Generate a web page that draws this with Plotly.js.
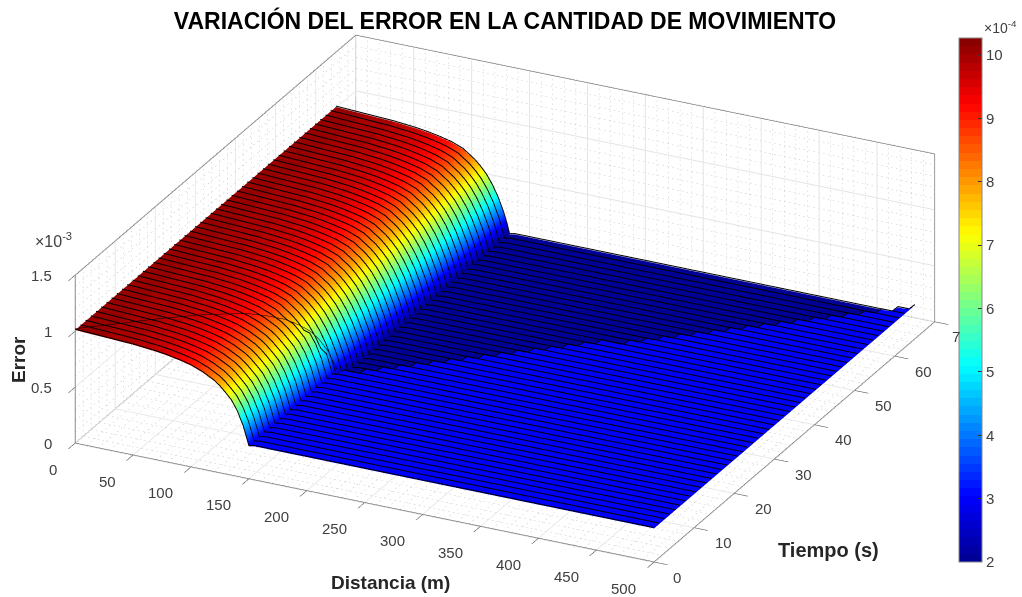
<!DOCTYPE html>
<html><head><meta charset="utf-8">
<script src="https://cdn.plot.ly/plotly-3.0.1.min.js"></script>
<style>html,body{margin:0;padding:0;background:#fff;overflow:hidden}</style>
</head><body><div id="chart" style="width:1022px;height:597px"></div>
<script>
// distance samples (m)
const distance = [0,10,20,30,40,50,60,70,80,90,100,110,120,125,130,135,140,145,148,150,155,160,170,180,190,200,210,220,230,240,250,260,270,280,290,300,310,320,330,340,350,360,370,380,390,400,410,420,430,440,450,460,470,480,490,500];
// error profile before the front has passed (t small)
const errorBefore = [1.01,1.005,1.0,.995,.99,.985,.975,.965,.95,.93,.905,.865,.81,.77,.72,.665,.58,.46,.36,.29,.3,.3,.3,.3,.3,.3,.3,.3,.3,.3,.3,.3,.3,.3,.3,.3,.3,.3,.3,.3,.3,.3,.3,.3,.3,.3,.3,.3,.3,.3,.3,.3,.3,.3,.3,.3];
// error profile after the front has passed
const errorAfter = [1.01,1.005,1.0,.995,.99,.985,.975,.965,.95,.93,.905,.865,.79,.74,.68,.6,.5,.37,.27,.19,.2,.2,.2,.2,.2,.2,.2,.2,.2,.2,.2,.2,.2,.2,.2,.2,.2,.2,.2,.2,.2,.2,.2,.2,.2,.2,.2,.2,.2,.2,.2,.2,.2,.2,.2,.2];
// time at which the front crosses each distance (s)
const arrival = [0,1.5,2.9,4.4,5.9,7.3,8.8,10.3,11.7,13.2,14.7,16.1,17.6,18.3,19.1,19.8,20.5,21.3,21.7,22,22.6,23.2,24.5,25.7,26.9,28.1,29.4,30.6,31.8,33.1,34.3,35.5,36.7,38,39.2,40.4,41.7,42.9,44.1,45.3,46.6,47.8,49,50.3,51.5,52.7,53.9,55.2,56.4,57.6,58.9,60.1,61.3,62.5,63.8,65.1];
const time = [0,1.3,2.6,3.9,5.2,6.5,7.8,9.1,10.4,11.7,13,14.3,15.6,16.9,18.2,19.5,20.8,22.1,23.4,24.7,26,27.3,28.6,29.9,31.2,32.5,33.8,35.1,36.4,37.7,39,40.3,41.6,42.9,44.2,45.5,46.8,48.1,49.4,50.7,52,53.3,54.6,55.9,57.2,58.5,59.8,61.1,62.4,63.7,65];
const xTicks = [0,50,100,150,200,250,300,350,400,450,500];
const tTicks = [0,10,20,30,40,50,60,70];
const zTicks = [0,0.5e-3,1e-3,1.5e-3];
const zTickText = ['0','0.5','1','1.5'];
const cbTicks = [2e-4,3e-4,4e-4,5e-4,6e-4,7e-4,8e-4,9e-4,1e-3];
const cbTickText = ['2','3','4','5','6','7','8','9','10'];
const xMinor = [10,20,30,40,60,70,80,90,110,120,130,140,160,170,180,190,210,220,230,240,260,270,280,290,310,320,330,340,360,370,380,390,410,420,430,440,460,470,480,490];
const tMinor = [2,4,6,8,12,14,16,18,22,24,26,28,32,34,36,38,42,44,46,48,52,54,56,58,62,64,66,68];
const zMinor = [1e-4,2e-4,3e-4,4e-4,6e-4,7e-4,8e-4,9e-4,11e-4,12e-4,13e-4,14e-4];
const jetStops = [[0,[0,0,143]],[.125,[0,0,255]],[.375,[0,255,255]],[.625,[255,255,0]],[.875,[255,0,0]],[1,[128,0,0]]];

const X0=0,X1=500,T0=0,T1=70,Z0=0,Z1=1.5e-3;
function jet(f){for(let i=1;i<jetStops.length;i++){if(f<=jetStops[i][0]){const a=jetStops[i-1],b=jetStops[i],u=(f-a[0])/(b[0]-a[0]);return 'rgb('+a[1].map((v,k)=>Math.round(v+(b[1][k]-v)*u)).join(',')+')';}}return 'rgb(128,0,0)';}
const N=64,scale=[];for(let i=0;i<N;i++){const c=jet((i+.5)/N);scale.push([i/N,c]);scale.push([(i+1)/N,c]);}
const z = time.map(t=>distance.map((d,i)=>(t<arrival[i]?errorBefore[i]:errorAfter[i])*1e-3));

const surf={type:'surface',x:distance,y:time,z:z,cmin:2e-4,cmax:1.027e-3,colorscale:scale,
 lighting:{ambient:1,diffuse:0,specular:0,roughness:1,fresnel:0},
 contours:{x:{highlight:false},y:{highlight:false},z:{highlight:false}},
 hoverinfo:'skip',
 colorbar:{x:959/1022,xanchor:'left',y:1-562/597,yanchor:'bottom',len:524/597,lenmode:'fraction',thickness:23,thicknessmode:'pixels',
  tickmode:'array',tickvals:cbTicks,ticktext:cbTickText,ticks:'inside',ticklen:4,tickcolor:'#333',tickfont:{family:'Liberation Sans',size:15,color:'#404040'},outlinecolor:'#888',outlinewidth:1,xpad:0,ypad:0}};

// black mesh lines of the surface, one per time row
function mesh(){const gx=[],gy=[],gz=[];time.forEach((t,r)=>{distance.forEach((d,i)=>{gx.push(d);gy.push(t);gz.push(z[r][i]+8e-6);});gx.push(null);gy.push(null);gz.push(null);});
 return {type:'scatter3d',mode:'lines',x:gx,y:gy,z:gz,line:{color:'#000',width:2},hoverinfo:'skip',showlegend:false};}
// minor grid: dotted by short pieces along each line
function grid(){const gx=[],gy=[],gz=[];
 const dots=(a,b,n)=>{for(let i=0;i<n;i++){const p=i/n,q=(i+0.3)/n;[p,q].forEach(u=>{gx.push(a[0]+(b[0]-a[0])*u);gy.push(a[1]+(b[1]-a[1])*u);gz.push(a[2]+(b[2]-a[2])*u);});gx.push(null);gy.push(null);gz.push(null);}};
 const nX=119,nT=74,nZ=34;
 xMinor.forEach(v=>{dots([v,T0,Z0],[v,T1,Z0],nT);dots([v,T1,Z0],[v,T1,Z1],nZ);});
 tMinor.forEach(v=>{dots([X0,v,Z0],[X1,v,Z0],nX);dots([X0,v,Z0],[X0,v,Z1],nZ);});
 zMinor.forEach(v=>{dots([X0,T0,v],[X0,T1,v],nT);dots([X0,T1,v],[X1,T1,v],nX);});
 return {type:'scatter3d',mode:'lines',x:gx,y:gy,z:gz,line:{color:'#c4c4c4',width:1},hoverinfo:'skip',showlegend:false};}
function box(){const gx=[],gy=[],gz=[];const seg=(a,b)=>{gx.push(a[0],b[0],null);gy.push(a[1],b[1],null);gz.push(a[2],b[2],null);};
 seg([X0,T0,Z0],[X0,T0,Z1]);seg([X0,T0,Z1],[X0,T1,Z1]);seg([X0,T1,Z1],[X1,T1,Z1]);seg([X1,T1,Z1],[X1,T1,Z0]);seg([X0,T1,Z1],[X0,T1,Z0]);seg([X0,T1,Z0],[X0,T0,Z0]);seg([X0,T1,Z0],[X1,T1,Z0]);seg([X0,T0,Z0],[X1,T0,Z0]);seg([X1,T0,Z0],[X1,T1,Z0]);
 return {type:'scatter3d',mode:'lines',x:gx,y:gy,z:gz,line:{color:'#555',width:2},hoverinfo:'skip',showlegend:false};}
const nFront=20;
const crease={type:'scatter3d',mode:'lines',x:distance.slice(0,nFront),y:arrival.slice(0,nFront),z:errorBefore.slice(0,nFront).map(v=>v*1e-3+1.2e-5),line:{color:'#000',width:1},hoverinfo:'skip',showlegend:false};

const tf={family:'Liberation Sans',size:15,color:'#404040'};
const ann=[];
xTicks.forEach(v=>ann.push({x:v,y:T0,z:Z0,text:String(v),showarrow:false,font:tf,xshift:v===0?-22:(v===50?-25:-30),yshift:-26}));
tTicks.forEach(v=>{ann.push({x:X1,y:v,z:Z0,text:v===70?'7':String(v),showarrow:false,font:tf,xshift:v===0?23:(v===70?21:29),yshift:-15});});
zTicks.forEach((v,i)=>ann.push({x:X0,y:T0,z:v,text:zTickText[i],showarrow:false,font:tf,xanchor:'right',xshift:-21,yshift:0}));

const axis={showbackground:false,showspikes:false,showticklabels:false,showline:false,zeroline:false,gridcolor:'#e4e4e4',gridwidth:2,ticks:'outside',ticklen:15,tickcolor:'#555',tickwidth:1.5,title:{text:''}};
const k=1.6, s=2.16;
const bf=(sz)=>({family:'Liberation Sans',size:sz,color:'#262626'});
const layout={width:1022,height:597,margin:{l:0,r:0,t:0,b:0},paper_bgcolor:'#fff',showlegend:false,
 title:{text:'<b>VARIACIÓN DEL ERROR EN LA CANTIDAD DE MOVIMIENTO</b>',font:{family:'Liberation Sans',size:23,color:'#000'},x:505/1022,xanchor:'center',y:1-21/597,yanchor:'middle'},
 scene:{domain:{x:[0,0.988],y:[0,1]},aspectmode:'manual',aspectratio:{x:s,y:0.99*s,z:0.287*s},
  camera:{projection:{type:'orthographic'},up:{x:0,y:0,z:1},center:{x:0,y:0,z:0},eye:{x:.3993*k,y:-.8152*k,z:.419*k}},
  xaxis:Object.assign({},axis,{range:[X0,X1],tickvals:xTicks}),
  yaxis:Object.assign({},axis,{range:[T0,T1],tickvals:tTicks}),
  zaxis:Object.assign({},axis,{range:[Z0,Z1],tickvals:zTicks}),
  annotations:ann},
 annotations:[
  {xref:'paper',yref:'paper',x:390/1022,y:1-582/597,xanchor:'center',yanchor:'middle',text:'<b>Distancia (m)</b>',showarrow:false,font:bf(19)},
  {xref:'paper',yref:'paper',x:828/1022,y:1-550/597,xanchor:'center',yanchor:'middle',text:'<b>Tiempo (s)</b>',showarrow:false,font:bf(20)},
  {xref:'paper',yref:'paper',x:19/1022,y:1-360/597,xanchor:'center',yanchor:'middle',text:'<b>Error</b>',textangle:-90,showarrow:false,font:bf(19)},
  {xref:'paper',yref:'paper',x:53/1022,y:1-240/597,xanchor:'center',yanchor:'middle',text:'×10<sup>-3</sup>',showarrow:false,font:{family:'Liberation Sans',size:16,color:'#404040'}},
  {xref:'paper',yref:'paper',x:1000/1022,y:1-27/597,xanchor:'center',yanchor:'middle',text:'×10<sup>-4</sup>',showarrow:false,font:{family:'Liberation Sans',size:14,color:'#404040'}}
 ]};
Plotly.newPlot('chart',[grid(),box(),surf,mesh(),crease],layout,{displayModeBar:false});
</script></body></html>
